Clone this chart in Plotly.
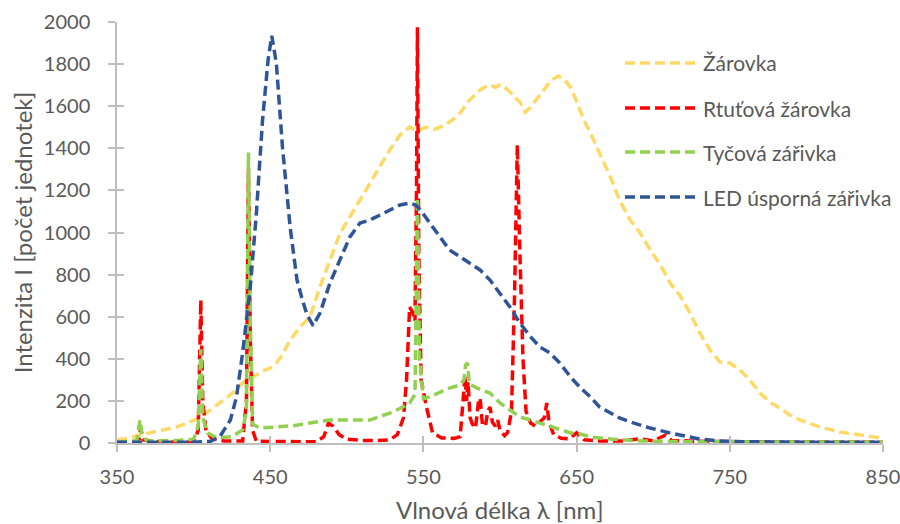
import plotly.graph_objects as go

# Spectra of four light sources: wavelength [nm] and intensity [counts]
zarovka_wl = [350, 357, 365, 375, 389, 404, 417, 425, 432, 440, 446, 450, 454, 458, 463, 469.5, 476,
              482.5, 489, 495.6, 502, 508.6, 515, 521.7, 528, 534.7, 541, 544, 548, 551, 554, 557, 561,
              564, 567, 570, 574, 577, 580, 584, 587, 590, 593.5, 597, 600, 603, 606.5, 610, 613, 616.5,
              620, 623, 626, 629, 632.6, 635, 638, 642, 646, 649, 652, 655, 659, 665, 672, 678, 685,
              691.6, 698, 704.7, 711, 717.5, 724, 730.5, 737, 743.6, 750, 756.6, 763, 769.7, 776, 782.8,
              789, 796, 809, 822, 835, 848, 850]
zarovka_i = [15, 22, 38, 55, 76, 119, 190, 235, 285, 320, 345, 355, 380, 420, 490, 551, 600,
             742, 869, 997, 1074, 1154, 1235, 1311, 1392, 1463, 1501, 1490, 1487, 1500, 1496, 1490, 1501,
             1510, 1525, 1540, 1568, 1600, 1629, 1655, 1677, 1690, 1701, 1690, 1701, 1690, 1668, 1640, 1620, 1572,
             1596, 1625, 1653, 1680, 1715, 1730, 1743, 1725, 1691, 1640, 1582, 1530, 1473, 1378, 1264, 1154, 1059,
             997, 917, 846, 760, 700, 617, 522, 442, 385, 380, 347, 299, 237, 195, 166,
             133, 109, 76, 52, 38, 24, 22]

rtut_wl = [350, 362, 364.5, 365.5, 367, 380, 400, 403, 404.7, 406, 408, 412, 420, 432, 434.5, 435.8, 437,
           438.5, 441, 460, 480, 485, 488, 491, 495, 500, 510, 520, 528, 533, 537, 539, 541, 543, 544.5,
           545.5, 546.1, 547, 548.5, 552, 556, 562, 570, 574, 576.5, 577.2, 578.2, 579.1, 580.5, 582, 584,
           586, 587, 588.5, 590.5, 592, 593.5, 595, 597, 598.5, 600, 603, 605, 607.5, 609.5, 611.3, 613,
           615, 617, 620, 623, 626, 629, 630.5, 632, 635, 640, 645, 650, 655, 665, 680, 691, 700, 708,
           712, 730, 780, 850]
rtut_i = [3, 3, 20, 70, 15, 4, 5, 60, 679, 200, 60, 20, 10, 10, 200, 1300, 500,
          60, 8, 5, 6, 30, 95, 80, 40, 18, 12, 12, 15, 40, 120, 300, 646, 620, 580,
          1200, 1975, 900, 300, 171, 48, 24, 22, 30, 250, 320, 200, 290, 120, 90, 70,
          200, 214, 90, 80, 150, 171, 100, 80, 109, 60, 35, 50, 150, 700, 1416, 900,
          400, 150, 95, 80, 100, 120, 190, 100, 40, 22, 20, 48, 15, 10, 10, 20, 10, 38,
          12, 8, 5, 4]

tycova_wl = [350, 360, 363, 365, 366.5, 370, 390, 400, 403, 404.7, 406, 409, 415, 425, 432, 434.5, 435.8,
             437, 438.5, 443, 454, 465, 476, 489, 502, 515, 528, 535, 541, 544.5, 546.1, 547.5, 550, 554,
             561, 567, 574, 576.5, 577.5, 578.8, 580, 585, 593.5, 600, 606.5, 613, 620, 626, 632.6, 646,
             650, 659, 672, 692, 720, 850]
tycova_i = [5, 8, 15, 110, 30, 10, 12, 18, 80, 445, 120, 48, 24, 30, 62, 150, 1380,
            600, 90, 71, 76, 82, 95, 109, 109, 109, 142, 165, 190, 230, 1165, 400, 210, 219,
            242, 261, 276, 300, 370, 380, 280, 261, 237, 190, 157, 124, 109, 95, 76, 48,
            48, 29, 19, 10, 6, 4]

led_wl = [350, 380, 400, 411, 417, 424, 428, 432, 437, 441, 445, 448.6, 451, 454, 458, 463, 467.5, 471,
          474, 478, 482.5, 489, 495.6, 502, 508.6, 515, 521.7, 528, 534.7, 541, 545, 548, 554, 561, 567,
          574, 580, 587, 593.5, 600, 606.5, 613, 620, 626, 632.6, 639, 646, 652, 659, 665, 672, 678, 685,
          691.6, 698, 711, 724, 730, 743, 760, 800, 850]
led_i = [3, 3, 4, 8, 29, 109, 219, 428, 741, 1093, 1534, 1819, 1935, 1805, 1406, 1026, 774, 680,
         610, 558, 617, 760, 869, 979, 1045, 1059, 1083, 1107, 1131, 1140, 1130, 1107, 1045, 979, 917,
         884, 855, 822, 774, 712, 646, 570, 504, 456, 428, 380, 314, 266, 219, 171, 142, 119, 100,
         86, 71, 48, 29, 19, 10, 6, 4, 3]

series_names = ["Žárovka", "Rtuťová žárovka", "Tyčová zářivka", "LED úsporná zářivka"]
series_colors = ["#FFD966", "#FF0000", "#92D050", "#2F5597"]
series_data = [(zarovka_wl, zarovka_i), (rtut_wl, rtut_i), (tycova_wl, tycova_i), (led_wl, led_i)]

x_ticks = [350, 450, 550, 650, 750, 850]
y_ticks = list(range(0, 2001, 200))

x_title = "Vlnová délka λ [nm]"
y_title = "Intenzita I [počet jednotek]"

FONT = "Lato"
GREY_TEXT = "#595959"
AXIS_GREY = "#BFBFBF"
DASH = "10px,5px"

W, H = 900, 524
M_L, M_R, M_T, M_B = 117, 17, 22, 81
PLOT_W = W - M_L - M_R
PLOT_H = H - M_T - M_B


def paper_x(px):
    return (px - M_L) / PLOT_W


def paper_y(py):
    return (H - M_B - py) / PLOT_H


fig = go.Figure()
for name, color, (wl, inten) in zip(series_names, series_colors, series_data):
    fig.add_trace(go.Scatter(
        x=wl, y=inten, name=name, mode="lines", showlegend=False,
        line=dict(color=color, width=3.5, dash=DASH),
    ))

# empty trace that carries the secondary (inside-tick) axes
fig.add_trace(go.Scatter(x=[], y=[], xaxis="x2", yaxis="y2", showlegend=False, hoverinfo="skip"))

# legend drawn as long dashed keys with labels, stacked top-right inside the plot
legend_rows_px = [63, 108, 152, 197]
shapes, annotations = [], []
for name, color, row in zip(series_names, series_colors, legend_rows_px):
    shapes.append(dict(
        type="line", xref="paper", yref="paper",
        x0=paper_x(625), x1=paper_x(695), y0=paper_y(row), y1=paper_y(row),
        line=dict(color=color, width=3.5, dash=DASH),
    ))
    annotations.append(dict(
        text=name, xref="paper", yref="paper", x=paper_x(701), y=paper_y(row),
        xanchor="left", yanchor="middle", showarrow=False,
        font=dict(family=FONT, size=21, color=GREY_TEXT),
    ))

# x-axis title, centred under the plot area
annotations.append(dict(
    text=x_title, xref="paper", yref="paper", x=0.5, y=paper_y(509),
    xanchor="center", yanchor="middle", showarrow=False,
    font=dict(family=FONT, size=24, color=GREY_TEXT),
))

fig.update_layout(
    width=W, height=H,
    margin=dict(l=M_L, r=M_R, t=M_T, b=M_B),
    paper_bgcolor="white", plot_bgcolor="white",
    font=dict(family=FONT, color=GREY_TEXT, size=20),
    showlegend=False,
    shapes=shapes, annotations=annotations,
    xaxis=dict(
        range=[350, 850], tickvals=x_ticks, ticktext=[str(v) for v in x_ticks],
        automargin=False, ticklabeloverflow="allow",
        showgrid=False, zeroline=False, showline=True, linecolor=AXIS_GREY, linewidth=1.5,
        ticks="outside", ticklen=7, tickcolor=AXIS_GREY, tickwidth=1.5,
        ticklabelstandoff=8,
        tickfont=dict(size=20, color=GREY_TEXT),
    ),
    yaxis=dict(
        range=[0, 2000], tickvals=y_ticks, ticktext=[str(v) for v in y_ticks],
        automargin=False, ticklabeloverflow="allow",
        showgrid=False, zeroline=False, showline=True, linecolor=AXIS_GREY, linewidth=1.5,
        ticks="outside", ticklen=7, tickcolor=AXIS_GREY, tickwidth=1.5,
        ticklabelstandoff=14,
        tickfont=dict(size=20, color=GREY_TEXT),
        title=dict(text=y_title, font=dict(size=24, color=GREY_TEXT), standoff=4),
    ),
    xaxis2=dict(
        range=[350, 850], tickvals=x_ticks, overlaying="x", anchor="y2", side="bottom",
        automargin=False,
        showgrid=False, zeroline=False, showline=False, showticklabels=False,
        ticks="inside", ticklen=7, tickcolor=AXIS_GREY, tickwidth=1.5,
    ),
    yaxis2=dict(
        range=[0, 2000], tickvals=y_ticks, overlaying="y", anchor="x2", side="left",
        automargin=False,
        showgrid=False, zeroline=False, showline=False, showticklabels=False,
        ticks="inside", ticklen=7, tickcolor=AXIS_GREY, tickwidth=1.5,
    ),
)

fig.write_html("out.html")
